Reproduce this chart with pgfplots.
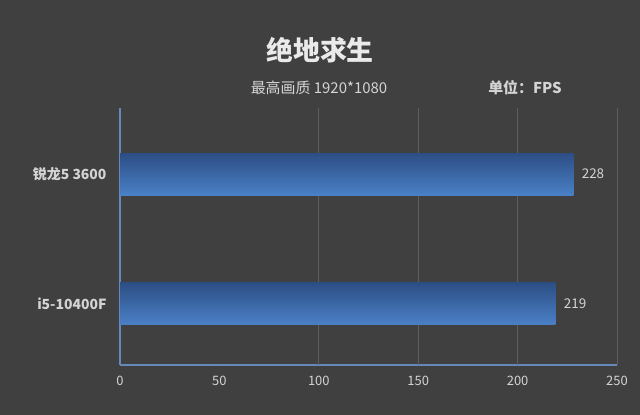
\documentclass[border=0pt]{standalone}
\usepackage{pgfplots}
\pgfplotsset{compat=1.18}
\usepackage{fontspec}
\setmainfont{Noto Sans CJK SC}
\definecolor{bg}{HTML}{404040}
\definecolor{axisblue}{HTML}{6688BB}
\definecolor{gridc}{HTML}{5E5E5E}
\definecolor{lbl}{HTML}{D4D4D4}
\definecolor{titlec}{HTML}{EAEAEA}
\definecolor{bartop}{HTML}{2C4E84}
\definecolor{barbot}{HTML}{4A80C6}
\begin{document}
\begin{tikzpicture}
\path[use as bounding box, fill=bg] (0,0) rectangle (640bp,415bp);
\node[text=titlec, font=\bfseries\fontsize{27}{30}\selectfont] at (320bp,365bp) {绝地求生};
\node[text=lbl, font=\fontsize{15}{18}\selectfont] at (319bp,327bp) {最高画质 1920*1080};
\node[text=lbl, font=\bfseries\fontsize{15}{18}\selectfont] at (525bp,327bp) {单位：FPS};
\begin{axis}[
  at={(120bp,50bp)}, anchor=south west,
  scale only axis, width=497bp, height=257bp,
  xbar, bar width=42bp, bar shift=0pt,
  xmin=0, xmax=250, ymin=-0.475, ymax=1.51,
  ytick={0,1}, yticklabels={i5-10400F, 锐龙5 3600},
  xtick={0,50,100,150,200,250},
  axis x line*=bottom, axis y line*=left,
  axis line style={color=axisblue, line width=1.2bp},
  tick style={draw=none},
  major tick length=0pt,
  /pgf/number format/assume math mode=true,
  xticklabel style={text=lbl, font=\fontsize{13}{15}\selectfont, yshift=-8bp},
  yticklabel style={text=lbl, font=\bfseries\fontsize{14}{16}\selectfont, xshift=-10bp},
  extra x ticks={100,150,200,250},
  extra x tick labels={},
  extra x tick style={grid=major, major grid style={draw=gridc, line width=0.8bp}},
  nodes near coords,
  nodes near coords style={text=lbl, font=\fontsize{13.5}{15}\selectfont, anchor=west, xshift=5bp},
]
\addplot[draw=none, top color=bartop, bottom color=barbot] coordinates {(228,1)};
\addplot[draw=none, top color=bartop, bottom color=barbot] coordinates {(219,0)};
\end{axis}
\end{tikzpicture}
\end{document}
